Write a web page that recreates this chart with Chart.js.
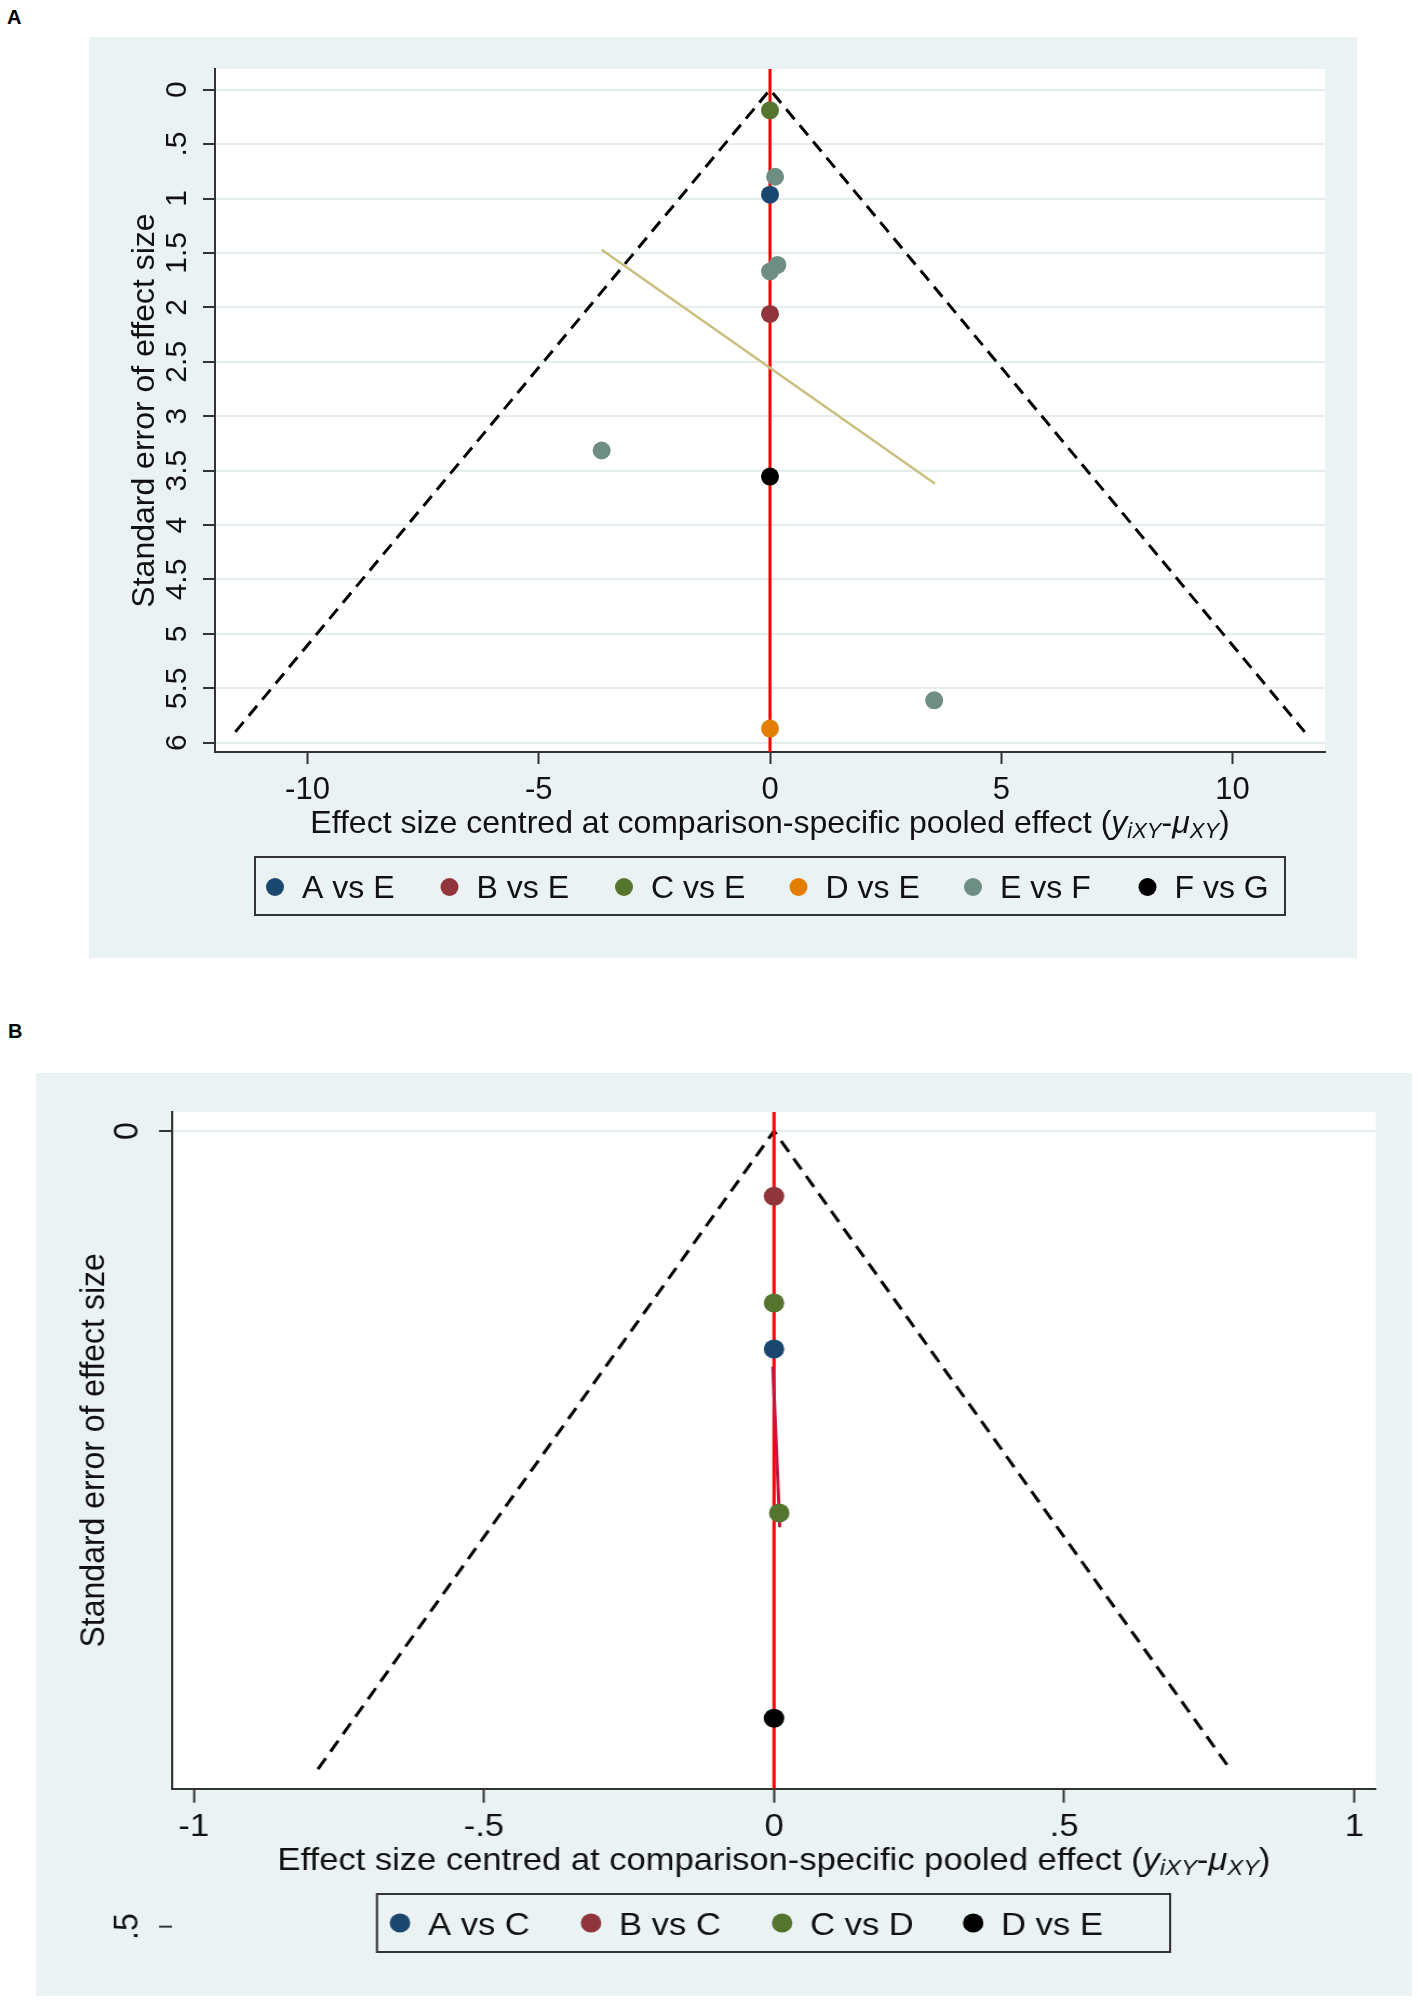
<!DOCTYPE html>
<html>
<head>
<meta charset="utf-8">
<title>Funnel plots</title>
<script src="https://cdn.jsdelivr.net/npm/chart.js@4.4.1/dist/chart.umd.min.js"></script>
<style>
  html, body { margin: 0; padding: 0; background: #ffffff; }
  body { width: 1418px; height: 2003px; position: relative; overflow: hidden; font-family: "Liberation Sans", Arial, sans-serif; }
  .tag { position: absolute; font-weight: bold; font-size: 20px; line-height: 1; color: #000; }
  canvas { position: absolute; }
</style>
</head>
<body>
<div class="tag" style="left:7px;top:7px">A</div>
<canvas id="chart-a" width="1268" height="921" style="left:89px;top:37px;width:1268px;height:921px"></canvas>
<div class="tag" style="left:8px;top:1021px">B</div>
<!-- panel B of the original is stretched ~8% horizontally: drawn narrower, shown wider -->
<canvas id="chart-b" width="1274" height="923" style="left:36px;top:1073px;width:1376px;height:923px"></canvas>
<script>
const FONT = '"Liberation Sans", Arial, sans-serif';
const BG = "#eaf2f3";
const GRID = "#e4edef";
const AXIS = "#333333";
const INK = "#111111";

// ---- panel A data ----
const seriesA = ["A vs E", "B vs E", "C vs E", "D vs E", "E vs F", "F vs G"];
const colorsA = ["#1a476f", "#90353b", "#55752f", "#e37e00", "#6e8e84", "#000000"];
const effectA = [[0], [0], [0], [0], [0.11, 0.16, 0, -3.64, 3.55], [0]];
const seA = [[0.965], [2.06], [0.19], [5.87], [0.8, 1.61, 1.67, 3.315, 5.61], [3.555]];
const funnelXA = [-11.56, 0, 11.56];
const funnelSeA = [5.9, 0, 5.9];
const regXA = [-3.64, 3.57];
const regSeA = [1.47, 3.62];
const xTicksA = [-10, -5, 0, 5, 10];
const xTickLabelsA = ["-10", "-5", "0", "5", "10"];
const yTicksA = [0, 0.5, 1, 1.5, 2, 2.5, 3, 3.5, 4, 4.5, 5, 5.5, 6];
const yTickLabelsA = ["0", ".5", "1", "1.5", "2", "2.5", "3", "3.5", "4", "4.5", "5", "5.5", "6"];
const xRangeA = [-12, 12];
const yRangeA = [-0.19, 6.085];

// ---- panel B data ----
const seriesB = ["A vs C", "B vs C", "C vs D", "D vs E"];
const colorsB = ["#1a476f", "#90353b", "#55752f", "#000000"];
const effectB = [[0], [0], [0, 0.009], [0]];
const seB = [[0.137], [0.041], [0.108, 0.24], [0.369]];
const funnelXB = [-0.786, 0, 0.786];
const funnelSeB = [0.401, 0, 0.401];
const regXB = [-0.002, 0.01];
const regSeB = [0.148, 0.249];
const xTicksB = [-1, -0.5, 0, 0.5, 1];
const xTickLabelsB = ["-1", "-.5", "0", ".5", "1"];
const yTicksB = [0, 0.5];
const yTickLabelsB = ["0", ".5"];
const xRangeB = [-1.0375, 1.0375];
const yRangeB = [-0.012, 0.4133];

const X_TITLE = [
  { t: "Effect size centred at comparison-specific pooled effect (" },
  { t: "y", italic: true },
  { t: "iXY", italic: true, sub: true },
  { t: "-" },
  { t: "\u03bc", italic: true },
  { t: "XY", italic: true, sub: true },
  { t: ")" },
];

const pairs = (xs, ys) => xs.map((x, i) => ({ x, y: ys[i] }));

function drawRichTitle(ctx, parts, cx, baseline, size) {
  const fontOf = (p) =>
    (p.italic ? "italic " : "") + Math.round(size * (p.sub ? 0.68 : 1)) + "px " + FONT;
  let total = 0;
  parts.forEach((p) => {
    ctx.font = fontOf(p);
    total += ctx.measureText(p.t).width;
  });
  let x = cx - total / 2;
  ctx.textAlign = "left";
  ctx.textBaseline = "alphabetic";
  ctx.fillStyle = INK;
  parts.forEach((p) => {
    ctx.font = fontOf(p);
    ctx.fillText(p.t, x, baseline + (p.sub ? size * 0.17 : 0));
    x += ctx.measureText(p.t).width;
  });
}

function makeFrame(p) {
  return {
    id: "stataFrame",
    beforeDraw(chart) {
      const { ctx, chartArea: a } = chart;
      ctx.save();
      ctx.fillStyle = BG;
      ctx.fillRect(0, 0, chart.width, chart.height);
      ctx.fillStyle = "#ffffff";
      ctx.fillRect(a.left, a.top, a.right - a.left, a.bottom - a.top);
      ctx.restore();
    },
    afterDraw(chart) {
      const { ctx, chartArea: a } = chart;
      const yScale = chart.scales.y;
      ctx.save();

      // y ticks that fall outside the plot region (Stata still draws them)
      const lx = yScale._labelItems && yScale._labelItems.length
        ? yScale._labelItems[0].options.translation[0]
        : a.left - p.yTickLen - 20;
      p.yTicks.forEach((v, i) => {
        if (v >= p.yRange[0] && v <= p.yRange[1]) return;
        const py = yScale.getPixelForValue(v);
        ctx.strokeStyle = AXIS;
        ctx.lineWidth = 2;
        ctx.beginPath();
        ctx.moveTo(a.left - p.yTickLen, py);
        ctx.lineTo(a.left, py);
        ctx.stroke();
        ctx.save();
        ctx.translate(lx, py);
        ctx.rotate(-Math.PI / 2);
        ctx.font = p.yTickFont + "px " + FONT;
        ctx.fillStyle = INK;
        ctx.textAlign = "center";
        ctx.textBaseline = "middle";
        ctx.fillText(p.yTickLabels[i], 0, 0);
        ctx.restore();
      });

      // x axis title with italic subscripts
      drawRichTitle(ctx, X_TITLE, (a.left + a.right) / 2, p.xTitleBaseline, p.fontSize);

      // boxed legend
      const lg = p.legend;
      ctx.strokeStyle = AXIS;
      ctx.lineWidth = 2;
      ctx.strokeRect(lg.left, lg.top, lg.width, lg.height);
      ctx.font = p.fontSize + "px " + FONT;
      ctx.textAlign = "left";
      ctx.textBaseline = "alphabetic";
      chart.data.datasets
        .filter((d) => !d.guide)
        .forEach((d, i) => {
          const cx = lg.firstX + i * lg.step;
          ctx.fillStyle = d.backgroundColor;
          ctx.beginPath();
          ctx.arc(cx, lg.markY, lg.radius, 0, Math.PI * 2);
          ctx.fill();
          ctx.fillStyle = INK;
          ctx.fillText(d.label, cx + lg.gap, lg.baseline);
        });
      ctx.restore();
    },
  };
}

function buildPanel(canvasId, p) {
  const font = { family: FONT, size: p.fontSize };
  const inRange = (vals, r) => vals.filter((v) => v >= r[0] && v <= r[1]);

  const pointSets = p.series.map((name, i) => ({
    label: name,
    data: pairs(p.effects[i], p.ses[i]),
    backgroundColor: p.colors[i],
    pointBackgroundColor: p.colors[i],
    pointRadius: p.pointRadius,
    pointBorderWidth: 0,
    showLine: false,
    order: 0,
  }));

  const guides = [
    {
      label: "funnel",
      guide: true,
      data: pairs(p.funnelX, p.funnelSe),
      showLine: true,
      borderColor: "#000000",
      borderWidth: 3,
      borderDash: [13, 8],
      pointRadius: 0,
      order: 3,
    },
    {
      label: "zero",
      guide: true,
      data: pairs([0, 0], p.yRange),
      showLine: true,
      borderColor: "#ff0000",
      borderWidth: 3,
      pointRadius: 0,
      order: 2,
    },
    {
      label: "regression",
      guide: true,
      data: pairs(p.regX, p.regSe),
      showLine: true,
      borderColor: p.regColor,
      borderWidth: p.regWidth,
      pointRadius: 0,
      order: 1,
    },
  ];

  return new Chart(document.getElementById(canvasId), {
    type: "scatter",
    data: { datasets: [...pointSets, ...guides] },
    plugins: [makeFrame(p)],
    options: {
      responsive: false,
      animation: false,
      devicePixelRatio: 1,
      events: [],
      layout: { padding: p.padding },
      plugins: { legend: { display: false }, tooltip: { enabled: false } },
      scales: {
        x: {
          type: "linear",
          min: p.xRange[0],
          max: p.xRange[1],
          afterBuildTicks: (s) => {
            s.ticks = inRange(p.xTicks, p.xRange).map((v) => ({ value: v }));
          },
          afterFit: (s) => {
            s.height = 60;
          },
          grid: {
            drawOnChartArea: false,
            drawTicks: true,
            tickLength: p.xTickLen,
            tickColor: AXIS,
            tickWidth: 2,
          },
          border: { color: AXIS, width: 2 },
          ticks: {
            autoSkip: false,
            maxRotation: 0,
            color: INK,
            font: { family: FONT, size: p.xTickFont },
            padding: p.xTickPad,
            callback: (v) => p.xTickLabels[p.xTicks.indexOf(v)] ?? "",
          },
        },
        y: {
          type: "linear",
          reverse: true,
          min: p.yRange[0],
          max: p.yRange[1],
          afterBuildTicks: (s) => {
            s.ticks = inRange(p.yTicks, p.yRange).map((v) => ({ value: v }));
          },
          afterFit: (s) => {
            s.width = p.yAxisWidth;
          },
          grid: {
            color: GRID,
            lineWidth: 2,
            tickLength: p.yTickLen,
            tickColor: AXIS,
            tickWidth: 2,
          },
          border: { color: AXIS, width: 2 },
          ticks: {
            autoSkip: false,
            minRotation: 90,
            maxRotation: 90,
            crossAlign: "center",
            color: INK,
            font: { family: FONT, size: p.yTickFont },
            padding: p.yTickPad,
            callback: (v) => p.yTickLabels[p.yTicks.indexOf(v)] ?? "",
          },
          title: {
            display: true,
            text: "Standard error of effect size",
            color: INK,
            font,
            padding: { top: p.yTitlePad, bottom: 0 },
          },
        },
      },
    },
  });
}

buildPanel("chart-a", {
  series: seriesA,
  colors: colorsA,
  effects: effectA,
  ses: seA,
  funnelX: funnelXA,
  funnelSe: funnelSeA,
  regX: regXA,
  regSe: regSeA,
  regColor: "#c9bf7e",
  regWidth: 2.5,
  xTicks: xTicksA,
  xTickLabels: xTickLabelsA,
  yTicks: yTicksA,
  yTickLabels: yTickLabelsA,
  xRange: xRangeA,
  yRange: yRangeA,
  fontSize: 32,
  xTickFont: 31,
  yTickFont: 30,
  pointRadius: 9,
  padding: { left: 0, right: 32, top: 32, bottom: 146 },
  yAxisWidth: 126,
  yTickLen: 12,
  yTickPad: 4.3,
  yTitlePad: 36.8,
  xTickLen: 12,
  xTickPad: 7.4,
  xTitleBaseline: 796,
  legend: { left: 166, top: 820, width: 1030, height: 58, firstX: 186, step: 174.5, markY: 850, radius: 9, gap: 27, baseline: 861 },
});

// panel B horizontal layout numbers are in the narrower drawing space (x / 1.08)
buildPanel("chart-b", {
  series: seriesB,
  colors: colorsB,
  effects: effectB,
  ses: seB,
  funnelX: funnelXB,
  funnelSe: funnelSeB,
  regX: regXB,
  regSe: regSeB,
  regColor: "#c4163f",
  regWidth: 3,
  xTicks: xTicksB,
  xTickLabels: xTickLabelsB,
  yTicks: yTicksB,
  yTickLabels: yTickLabelsB,
  xRange: xRangeB,
  yRange: yRangeB,
  fontSize: 32,
  xTickFont: 32,
  yTickFont: 32,
  pointRadius: 9.5,
  padding: { left: 0, right: 33.3, top: 34.5, bottom: 147.3 },
  yAxisWidth: 125.9,
  yTickLen: 12,
  yTickPad: 19.8,
  yTitlePad: 35.4,
  xTickLen: 14,
  xTickPad: 5.1,
  xTitleBaseline: 797,
  legend: { left: 315.7, top: 821, width: 734.3, height: 58, firstX: 337, step: 176.9, markY: 850, radius: 9.5, gap: 25.9, baseline: 862 },
});
</script>
</body>
</html>
